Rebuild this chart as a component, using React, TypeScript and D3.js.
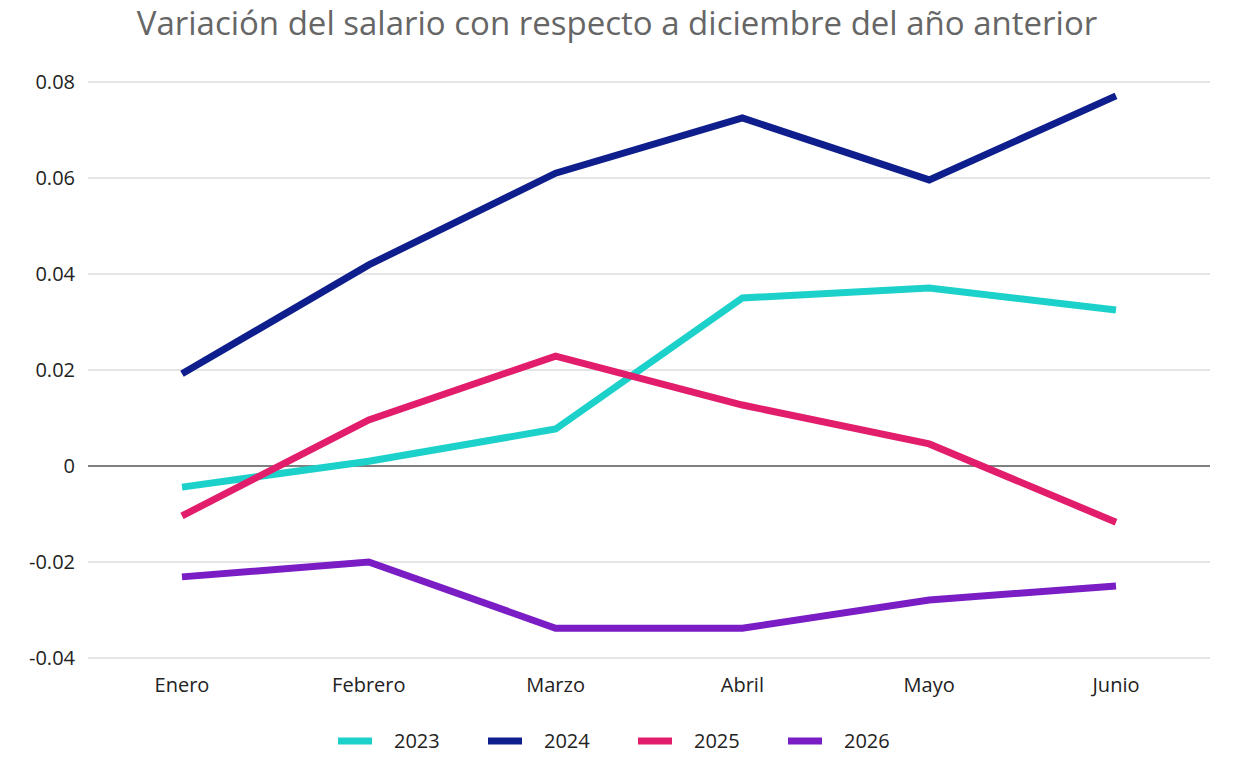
import * as d3 from "d3";

const months = ["Enero", "Febrero", "Marzo", "Abril", "Mayo", "Junio"];
const seriesNames = ["2023", "2024", "2025", "2026"];
const colors = ["#1dd1cb", "#0e1e8c", "#e21d6b", "#7a1dc4"];
const v2023 = [-0.0044, 0.001, 0.0077, 0.035, 0.0371, 0.0325];
const v2024 = [0.0192, 0.0419, 0.061, 0.0725, 0.0596, 0.0771];
const v2025 = [-0.0104, 0.0096, 0.0229, 0.0127, 0.0046, -0.0117];
const v2026 = [-0.0231, -0.02, -0.0338, -0.0338, -0.0279, -0.025];
const yTicks = [-0.04, -0.02, 0, 0.02, 0.04, 0.06, 0.08];
const tickLabels = ["-0.04", "-0.02", "0", "0.02", "0.04", "0.06", "0.08"];

const allSeries = [v2023, v2024, v2025, v2026];

export default function App() {
  const W = 1236, H = 768;
  const x = d3.scalePoint().domain(months).range([182, 1116]);
  const y = d3.scaleLinear().domain([-0.04, 0.08]).range([658, 82]);
  const line = d3
    .line<number>()
    .x((_, i) => x(months[i])!)
    .y((d) => y(d));
  const font = "'Open Sans', 'Noto Sans', sans-serif";

  return (
    <svg width={W} height={H} style={{ position: "absolute", left: 0, top: 0, fontFamily: font }}>
      <rect width={W} height={H} fill="white" />
      <text x={617} y={35} textAnchor="middle" fontSize={33} fill="#666">
        Variación del salario con respecto a diciembre del año anterior
      </text>
      {yTicks.map((t, i) => (
        <g key={t}>
          <line x1={88} x2={1210} y1={y(t)} y2={y(t)} stroke={t === 0 ? "#555" : "#ccc"} strokeWidth={t === 0 ? 1.5 : 1.2} />
          <text x={75} y={y(t) + 7} textAnchor="end" fontSize={20} fill="#222">
            {tickLabels[i]}
          </text>
        </g>
      ))}
      {months.map((m) => (
        <text key={m} x={x(m)} y={692} textAnchor="middle" fontSize={20} fill="#222">
          {m}
        </text>
      ))}
      {allSeries.map((s, i) => (
        <path key={i} d={line(s)!} fill="none" stroke={colors[i]} strokeWidth={7} strokeLinejoin="miter" />
      ))}
      {seriesNames.map((n, i) => (
        <g key={n} transform={`translate(${338 + i * 150},741)`}>
          <line x1={0} x2={34} y1={0} y2={0} stroke={colors[i]} strokeWidth={7} />
          <text x={56} y={7} fontSize={20} fill="#222">
            {n}
          </text>
        </g>
      ))}
    </svg>
  );
}
